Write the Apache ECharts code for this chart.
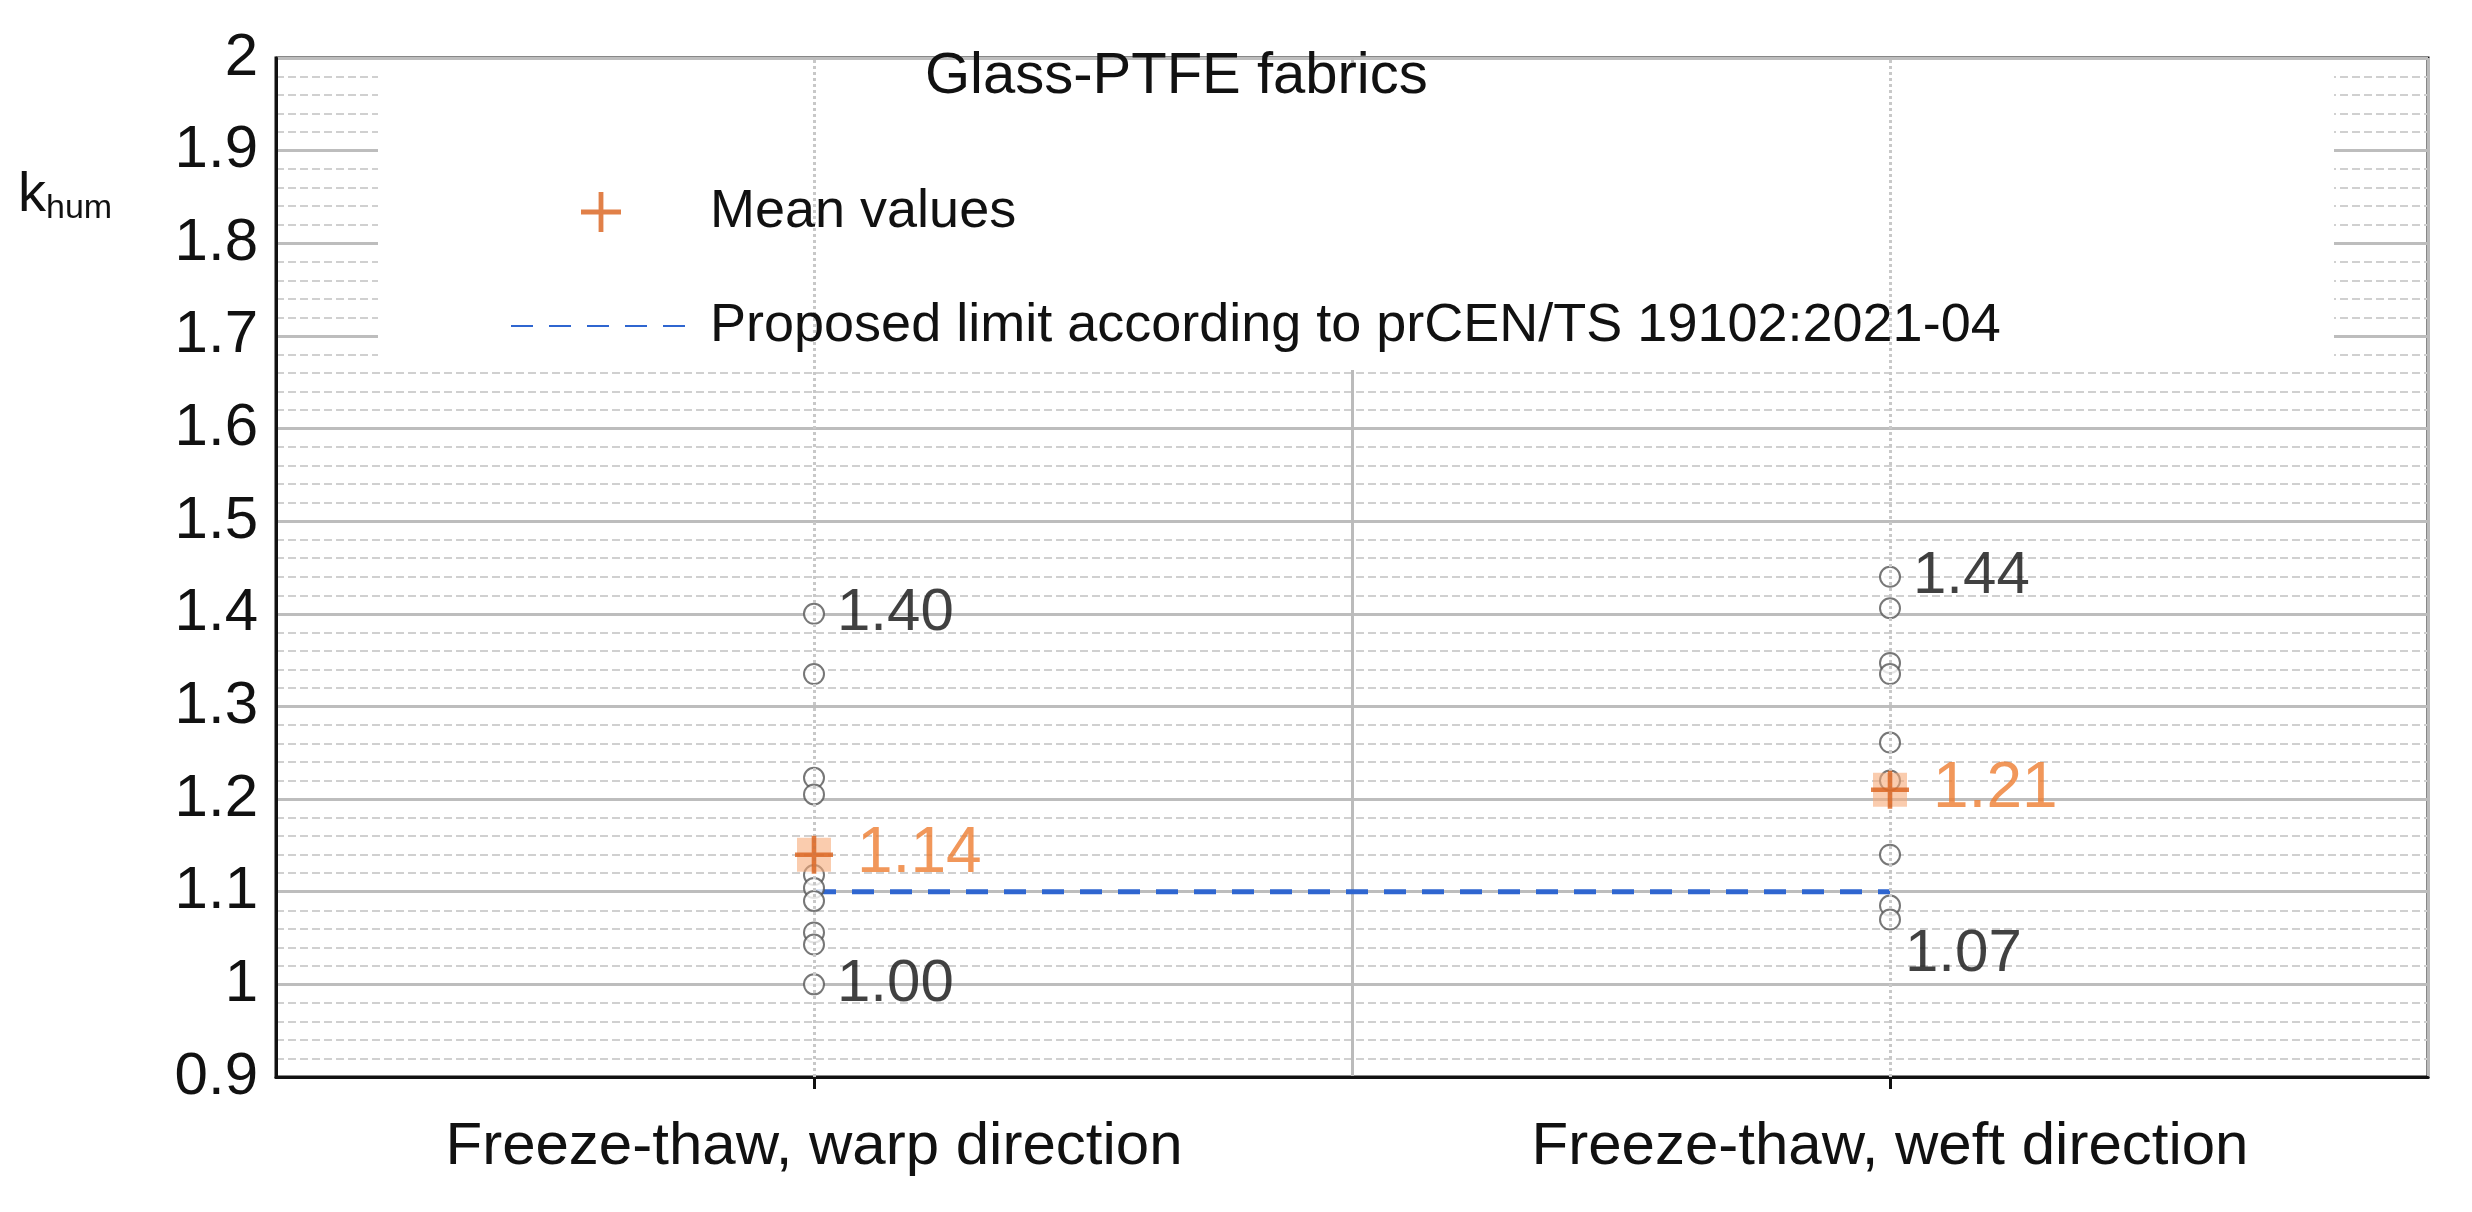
<!DOCTYPE html>
<html><head><meta charset="utf-8">
<script src="https://cdn.jsdelivr.net/npm/echarts@6/dist/echarts.min.js"></script>
<style>html,body{margin:0;padding:0;background:#fff}#c{width:2472px;height:1212px}</style>
</head><body><div id="c"></div>
<script>
const categories = ['Freeze-thaw, warp direction', 'Freeze-thaw, weft direction'];
const warpValues = [1.40, 1.335, 1.223, 1.205, 1.118, 1.104, 1.09, 1.056, 1.043, 1.00];
const weftValues = [1.44, 1.406, 1.347, 1.335, 1.261, 1.22, 1.14, 1.085, 1.07];
const meanValues = [1.14, 1.21];
const limitValue = 1.10;
const yTicks = {min: 0.9, max: 2, interval: 0.1};

const F = 'Liberation Sans, Arial, sans-serif';
const plus = 'path://M44,0H56V44H100V56H56V100H44V56H0V44H44Z';
function pts(cat, vals, labelPos) {
  const mx = Math.max(...vals), mn = Math.min(...vals);
  return vals.map(v => {
    const d = {value: [cat, v]};
    if (v === mx || v === mn) {
      d.label = {show: true, formatter: v.toFixed(2),
        position: (v === mn && labelPos === 'low') ? [26, 16] : 'right',
        distance: 12, color: '#111', fontSize: 60, fontFamily: F};
    }
    return d;
  });
}
const chart = echarts.init(document.getElementById('c'));
chart.setOption({
  animation: false,
  backgroundColor: '#fff',
  grid: {left: 276, right: 44, top: 58, bottom: 135, show: true, borderColor: '#111', borderWidth: 3},
  graphic: [
    {type: 'rect', left: 378, top: 62, shape: {width: 1956, height: 308}, style: {fill: '#fff'}, z: 5},
    {type: 'text', left: 925, top: 48, style: {text: 'Glass-PTFE fabrics', font: '58px ' + F, fill: '#111'}, z: 6},
    {type: 'text', left: 18, top: 168, style: {rich: {a: {fontSize: 56, fontFamily: F, fill: '#111'}, b: {fontSize: 34, fontFamily: F, fill: '#111', padding: [26,0,0,0]}}, text: '{a|k}{b|hum}'}, z: 6}
  ],
  legend: {
    orient: 'vertical', left: 505, top: 180, itemGap: 60, itemWidth: 180, itemHeight: 40,
    textStyle: {fontSize: 54, fontFamily: F, color: '#111', padding: [0,0,0,14]},
    data: [{name: 'Mean values'}, {name: 'Proposed limit according to prCEN/TS 19102:2021-04', itemStyle: {opacity: 0}}],
    z: 10
  },
  xAxis: {
    type: 'category', data: categories, boundaryGap: true,
    axisLine: {lineStyle: {color: '#111', width: 3}},
    axisTick: {show: true, alignWithLabel: true, length: 12, lineStyle: {color: '#111', width: 3}},
    axisLabel: {fontSize: 60, fontFamily: F, color: '#111', margin: 40},
    splitLine: {show: true, lineStyle: {color: '#bbb', width: 3}}
  },
  yAxis: {
    type: 'value', min: yTicks.min, max: yTicks.max, interval: yTicks.interval,
    axisLine: {show: true, lineStyle: {color: '#111', width: 3}},
    axisTick: {show: false},
    axisLabel: {fontSize: 60, fontFamily: F, color: '#111', margin: 18,
      formatter: v => String(Math.round(v * 10) / 10)},
    splitLine: {lineStyle: {color: '#bdbdbd', width: 3}},
    minorTick: {show: false, splitNumber: 5},
    minorSplitLine: {show: true, lineStyle: {color: '#d0d0d0', width: 2, type: 'dashed'}}
  },
  series: [
    {type: 'scatter', name: 'warp', symbol: 'emptyCircle', symbolSize: 20,
     itemStyle: {color: '#555', borderWidth: 4}, data: pts(categories[0], warpValues, 'right'), z: 3},
    {type: 'scatter', name: 'weft', symbol: 'emptyCircle', symbolSize: 20,
     itemStyle: {color: '#555', borderWidth: 4}, data: pts(categories[1], weftValues, 'low'), z: 3},
    {type: 'line', name: 'Proposed limit according to prCEN/TS 19102:2021-04', symbol: 'none',
     lineStyle: {color: '#2f66d0', width: 5, type: [22, 16]}, itemStyle: {color: '#2f66d0'},
     data: categories.map(c => [c, limitValue]), z: 2,
     markLine: {silent: true, symbol: 'none', label: {show: false},
       lineStyle: {color: '#c8c8c8', width: 3, type: 'dotted'},
       data: [{xAxis: categories[0]}, {xAxis: categories[1]}]}},
    {type: 'scatter', name: 'meanbg', symbol: 'rect', symbolSize: 34,
     itemStyle: {color: 'rgba(246,170,120,0.75)'}, silent: true,
     data: meanValues.map((v, i) => [categories[i], v]), z: 4},
    {type: 'scatter', name: 'Mean values', symbol: plus, symbolSize: 38,
     itemStyle: {color: '#d9601a'},
     data: meanValues.map((v, i) => ({value: [categories[i], v]})),
     label: {show: true, position: 'right', distance: 24, formatter: p => p.value[1].toFixed(2),
       color: '#ee7d31', fontSize: 64, fontFamily: F}, z: 5}
  ]
});
</script></body></html>
